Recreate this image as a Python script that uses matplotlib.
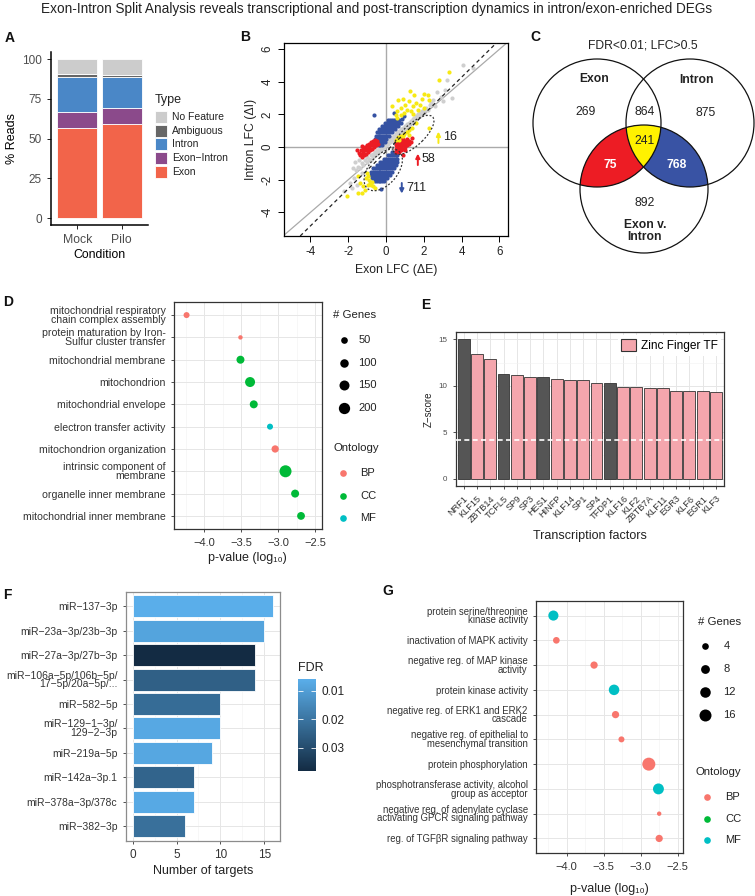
import numpy as np
import matplotlib
matplotlib.use("Agg")
import matplotlib.pyplot as plt
from matplotlib.patches import Rectangle, Circle, Polygon, Ellipse, Patch
from matplotlib.colors import LinearSegmentedColormap, Normalize
from matplotlib.cm import ScalarMappable

plt.rcParams['font.family'] = ['Liberation Sans', 'DejaVu Sans']

W, H = 755, 896

# ---------------- data ----------------
# A: read type composition
conditions = ['Mock', 'Pilo']
read_types = ['Exon', 'Exon−Intron', 'Intron', 'Ambiguous', 'No Feature']
exon_pct = [56.6, 59.3]
exon_intron_pct = [10.1, 9.9]
intron_pct = [22.2, 19.5]
ambiguous_pct = [1.7, 1.2]
nofeature_pct = [9.4, 10.1]

# B: exon vs intron LFC
gray_pts = [(-1.6, -1.4), (-1.5, -1.2), (-1.4, -1.3), (-1.3, -1.0), (-1.2, -1.1), (-1.1, -0.8), (-1.0, -0.9),
            (-1.0, -0.6), (-0.9, -0.7), (-0.8, -0.5), (-0.8, -0.8), (-0.7, -0.4), (-0.7, -0.6), (-0.6, -0.3),
            (-0.6, -0.5), (-0.5, -0.2), (-0.5, -0.4), (-0.4, -0.1), (-0.4, -0.3), (-0.3, 0.0), (-0.3, -0.2),
            (-0.2, 0.1), (-0.2, -0.1), (-0.1, 0.2), (-0.1, 0.0), (0.0, 0.3), (0.0, 0.1), (0.1, 0.4), (0.1, 0.2),
            (0.2, 0.5), (0.2, 0.3), (0.3, 0.6), (0.3, 0.4), (0.4, 0.7), (0.4, 0.5), (0.5, 0.8), (0.5, 0.6),
            (0.6, 0.9), (0.6, 0.7), (0.7, 1.0), (0.7, 0.8), (0.8, 1.1), (0.8, 0.9), (0.9, 1.2), (1.0, 1.3),
            (1.0, 1.1), (1.1, 1.4), (1.2, 1.5), (1.2, 1.3), (1.3, 1.6), (1.4, 1.7), (1.4, 1.5), (1.5, 1.8),
            (1.6, 1.9), (1.6, 1.7), (1.7, 2.0), (1.8, 2.1), (1.8, 1.9), (1.9, 2.2), (2.0, 2.3), (2.0, 2.1),
            (2.1, 2.4), (2.2, 2.3), (2.3, 2.6), (-1.8, -2.5), (-1.7, -1.9), (-1.9, -2.2), (-1.55, -2.3),
            (-1.65, -0.9), (-1.75, -1.3), (-1.45, -0.8), (-2.2, -2.7), (-1.3, -1.6), (2.4, 2.7), (2.6, 2.5),
            (2.7, 3.4), (3.0, 2.8), (3.1, 3.5), (3.24, 4.13), (3.5, 3.0), (4.09, 5.05), (4.6, 4.87),
            (2.9, 3.1), (2.5, 2.9)]
blue_pts = [(-0.4, 0.1), (-0.3, 0.1), (-0.2, 0.1),
            (-0.45, 0.3), (-0.35, 0.3), (-0.25, 0.3), (-0.15, 0.3), (-0.05, 0.3),
            (-0.6, 0.5), (-0.5, 0.5), (-0.4, 0.5), (-0.3, 0.5), (-0.2, 0.5), (-0.1, 0.5), (0.0, 0.5),
            (-0.55, 0.7), (-0.45, 0.7), (-0.35, 0.7), (-0.25, 0.7), (-0.15, 0.7), (-0.05, 0.7), (0.05, 0.7),
            (0.15, 0.7), (-0.5, 0.9), (-0.4, 0.9), (-0.3, 0.9), (-0.2, 0.9), (-0.1, 0.9), (0.0, 0.9), (0.1, 0.9),
            (0.2, 0.9), (0.3, 0.9), (-0.35, 1.1), (-0.25, 1.1), (-0.15, 1.1), (-0.05, 1.1), (0.05, 1.1),
            (0.15, 1.1), (0.25, 1.1), (0.35, 1.1), (0.45, 1.1), (-0.2, 1.3), (-0.1, 1.3), (0.0, 1.3), (0.1, 1.3),
            (0.2, 1.3), (0.3, 1.3), (0.4, 1.3), (0.5, 1.3), (0.65, 1.3), (-0.05, 1.5), (0.05, 1.5), (0.15, 1.5),
            (0.25, 1.5), (0.35, 1.5), (0.45, 1.5), (0.55, 1.5), (0.7, 1.5), (0.8, 1.5), (0.1, 1.65), (0.2, 1.65),
            (0.3, 1.65), (0.4, 1.65), (0.55, 1.65), (0.7, 1.65), (-0.63, 1.98), (0.44, 2.12), (0.95, 1.88),
            (0.85, 1.75),
            (0.3, -0.3), (0.45, -0.3), (0.55, -0.3),
            (0.1, -0.5), (0.2, -0.5), (0.3, -0.5), (0.4, -0.5), (0.5, -0.5), (0.6, -0.5),
            (-0.1, -0.7), (0.0, -0.7), (0.1, -0.7), (0.2, -0.7), (0.3, -0.7), (0.4, -0.7), (0.5, -0.7),
            (0.6, -0.7), (-0.3, -0.9), (-0.2, -0.9), (-0.1, -0.9), (0.0, -0.9), (0.1, -0.9), (0.2, -0.9),
            (0.3, -0.9), (0.4, -0.9), (0.5, -0.9), (0.6, -0.9), (-0.5, -1.1), (-0.4, -1.1), (-0.3, -1.1),
            (-0.2, -1.1), (-0.1, -1.1), (0.0, -1.1), (0.1, -1.1), (0.2, -1.1), (0.3, -1.1), (0.4, -1.1),
            (0.5, -1.1), (-0.7, -1.3), (-0.6, -1.3), (-0.5, -1.3), (-0.4, -1.3), (-0.3, -1.3), (-0.2, -1.3),
            (-0.1, -1.3), (0.0, -1.3), (0.1, -1.3), (0.2, -1.3), (0.3, -1.3), (0.4, -1.3), (-0.8, -1.5),
            (-0.7, -1.5), (-0.6, -1.5), (-0.5, -1.5), (-0.4, -1.5), (-0.3, -1.5), (-0.2, -1.5), (-0.1, -1.5),
            (0.0, -1.5), (0.1, -1.5), (0.2, -1.5), (0.3, -1.5), (-0.8, -1.7), (-0.7, -1.7), (-0.6, -1.7),
            (-0.5, -1.7), (-0.4, -1.7), (-0.3, -1.7), (-0.2, -1.7), (-0.1, -1.7), (0.0, -1.7), (0.1, -1.7),
            (0.2, -1.7), (-0.75, -1.9), (-0.65, -1.9), (-0.55, -1.9), (-0.45, -1.9), (-0.35, -1.9),
            (-0.25, -1.9), (-0.15, -1.9), (-0.05, -1.9), (0.05, -1.9), (-0.6, -2.1), (-0.5, -2.1), (-0.4, -2.1),
            (-0.3, -2.1), (-0.2, -2.1), (-0.1, -2.1), (-0.25, -2.55)]
red_pts = [(-1.45, -0.35), (-1.4, -0.5), (-1.35, -0.2), (-1.3, -0.4), (-1.25, -0.6), (-1.2, -0.1), (-1.2, -0.3),
           (-1.15, -0.5), (-1.1, 0.0), (-1.1, -0.2), (-1.05, -0.4), (-1.0, 0.1), (-1.0, -0.1), (-0.95, -0.3),
           (-0.9, 0.2), (-0.9, 0.0), (-0.85, -0.2), (-0.8, 0.3), (-0.8, 0.1), (-0.75, -0.1), (-0.7, 0.4),
           (-0.7, 0.2), (-0.65, 0.0), (-0.6, 0.45), (-0.6, 0.25), (-0.55, 0.1), (-0.5, 0.35), (-1.55, -0.15),
           (-1.3, 0.05), (-0.45, 0.2),
           (0.5, -0.3), (0.5, -0.1), (0.5, 0.1), (0.55, 0.3), (0.6, -0.2), (0.6, 0.0), (0.6, 0.2), (0.65, 0.45),
           (0.7, -0.3), (0.7, -0.1), (0.7, 0.1), (0.7, 0.3), (0.8, -0.2), (0.8, 0.0), (0.8, 0.2), (0.8, 0.4),
           (0.8, 0.6), (0.9, -0.1), (0.9, 0.1), (0.9, 0.3), (0.9, 0.5), (1.0, 0.0), (1.0, 0.2), (1.0, 0.4),
           (1.1, 0.1), (1.1, 0.3), (1.1, 0.5), (1.2, 0.2), (1.2, 0.4), (1.3, 0.3), (1.35, 0.55), (0.92, -0.47),
           (1.0, -0.15)]
yellow_pts = [(3.35, 4.58), (2.8, 4.13), (1.27, 3.41), (0.65, 2.9), (0.9, 2.94), (1.5, 3.2), (2.0, 3.25),
              (2.2, 3.2), (1.0, 2.6), (1.2, 2.8), (1.4, 2.5), (1.6, 2.7), (1.8, 2.6), (1.1, 2.3), (0.8, 2.4),
              (1.3, 2.2), (0.6, 2.2), (1.7, 2.3), (2.0, 2.4), (0.3, 2.5), (1.9, 2.95), (2.29, 1.2), (2.25, 2.9),
              (0.95, 2.1), (1.45, 2.0), (0.6, 1.8), (0.8, 1.95), (0.5, 1.95),
              (0.5, 0.45), (0.65, 0.6), (0.8, 0.7), (0.95, 0.8), (1.1, 0.9), (1.2, 0.75), (0.7, 0.45),
              (0.9, 0.65), (1.35, 1.2), (1.6, 1.5), (1.2, 1.05),
              (-2.08, -2.99), (-1.47, -2.79), (-1.3, -2.79), (-1.38, -2.21), (-1.47, -1.8), (-1.0, -1.6),
              (-0.95, -1.8), (-0.9, -2.0), (-0.85, -2.2), (-0.8, -2.35), (-0.7, -2.4), (-0.95, -2.3),
              (-1.05, -1.9), (-0.75, -2.15), (-1.2, -2.4), (-1.1, -2.6), (-0.6, -2.5)]
b_counts = ['16', '58', '711']
b_ticks = [-4, -2, 0, 2, 4, 6]

# C: Venn counts
venn_counts = {'exon': 269, 'exon_intron': 864, 'intron': 875, 'all': 241,
               'exon_ei': 75, 'intron_ei': 768, 'ei': 892}

# D: GO terms (intron-enriched)
d_terms = ["mitochondrial respiratory\nchain complex assembly", "protein maturation by Iron-\nSulfur cluster transfer",
           "mitochondrial membrane", "mitochondrion", "mitochondrial envelope", "electron transfer activity",
           "mitochondrion organization", "intrinsic component of\nmembrane", "organelle inner membrane",
           "mitochondrial inner membrane"]
d_logp = [-4.24, -3.51, -3.51, -3.38, -3.33, -3.11, -3.04, -2.90, -2.77, -2.69]
d_genes = [35, 5, 85, 150, 85, 35, 66, 230, 85, 80]
d_onto = ['BP', 'BP', 'CC', 'CC', 'CC', 'MF', 'BP', 'CC', 'CC', 'CC']

# E: transcription factors
tf_names = ['NRF1', 'KLF15', 'ZBTB14', 'TCFL5', 'SP9', 'SP3', 'HES1', 'HINFP', 'KLF14', 'SP1', 'SP4', 'TFDP1',
            'KLF16', 'KLF2', 'ZBTB7A', 'KLF11', 'EGR3', 'KLF6', 'EGR1', 'KLF3']
tf_z = [15.0, 13.38, 12.84, 11.26, 11.15, 10.94, 10.9, 10.68, 10.61, 10.58, 10.29, 10.29,
        9.89, 9.82, 9.78, 9.75, 9.46, 9.39, 9.39, 9.32]
tf_zinc = [False, True, True, False, True, True, False, True, True, True, True, False,
           True, True, True, True, True, True, True, True]
tf_threshold = 4.21

# F: miRNAs
mir_names = ["miR−137−3p", "miR−23a−3p/23b−3p", "miR−27a−3p/27b−3p", "miR−106a−5p/106b−5p/\n17−5p/20a−5p/...",
             "miR−582−5p", "miR−129−1−3p/\n129−2−3p", "miR−219a−5p", "miR−142a−3p.1", "miR−378a−3p/378c",
             "miR−382−3p"]
mir_targets = [16, 15, 14, 14, 10, 10, 9, 7, 7, 6]
mir_fdr = [0.006, 0.0085, 0.038, 0.025, 0.022, 0.0075, 0.0078, 0.024, 0.0072, 0.021]

# G: GO terms (exon-enriched)
g_terms = ["protein serine/threonine\nkinase activity", "inactivation of MAPK activity",
           "negative reg. of MAP kinase\nactivity", "protein kinase activity",
           "negative reg. of ERK1 and ERK2\ncascade", "negative reg. of epithelial to\nmesenchymal transition",
           "protein phosphorylation", "phosphotransferase activity, alcohol\ngroup as acceptor",
           "negative reg. of adenylate cyclase\nactivating GPCR signaling pathway", "reg. of TGFβR signaling pathway"]
g_logp = [-4.18, -4.14, -3.63, -3.36, -3.34, -3.26, -2.89, -2.76, -2.75, -2.75]
g_genes = [11, 4, 5, 12, 5, 3, 19, 13, 1, 5]
g_onto = ['MF', 'BP', 'BP', 'MF', 'BP', 'BP', 'BP', 'MF', 'BP', 'BP']

# ---------------- style ----------------
type_colors = ['#f2644a', '#8b4a8b', '#4a87c7', '#666666', '#cccccc']
onto_colors = {'BP': '#F8766D', 'CC': '#00BA38', 'MF': '#00BFC4'}
scat_colors = {'gray': '#cfcfcf', 'blue': '#3552a3', 'red': '#ec1c24', 'yellow': '#f7e914'}
txt = '#333333'


def px_ax(x0, y0, x1, y1):
    return fig.add_axes([x0 / W, 1 - y1 / H, (x1 - x0) / W, (y1 - y0) / H])


def size_d(g):
    return 8.7 + 0.287 * np.asarray(g, dtype=float)


def size_g(g):
    return 5.8 + 4.3 * np.asarray(g, dtype=float)


def bw_frame(ax):
    for s in ax.spines.values():
        s.set_color('#333333')
        s.set_linewidth(0.9)
    ax.tick_params(color='#333333', length=2.5, width=0.6, labelcolor=txt)
    ax.set_axisbelow(True)


fig = plt.figure(figsize=(W / 100, H / 100), dpi=100)

fig.text(377 / W, 1 - 9 / H, 'Exon-Intron Split Analysis reveals transcriptional and post-transcription dynamics '
         'in intron/exon-enriched DEGs', ha='center', va='center', fontsize=9.8, color='#222222')

# ---------------- A ----------------
axA = px_ax(50.7, 51.7, 148.3, 225)
xs = np.arange(1, len(conditions) + 1)
bottom = np.zeros(len(conditions))
for vals, col in zip([exon_pct, exon_intron_pct, intron_pct, ambiguous_pct, nofeature_pct], type_colors):
    axA.bar(xs, vals, bottom=bottom, width=0.9, color=col, edgecolor='white', linewidth=0.6)
    bottom += np.array(vals)
axA.set_xlim(0.4, 2.6)
axA.set_ylim(-4.4, 104.6)
axA.set_xticks(xs)
axA.set_xticklabels(conditions)
axA.set_yticks([0, 25, 50, 75, 100])
axA.tick_params(labelsize=8.5, labelcolor='#4d4d4d', length=3, width=0.6)
axA.tick_params(axis='x', labelsize=8.8)
for s in ['top', 'right']:
    axA.spines[s].set_visible(False)
for s in ['left', 'bottom']:
    axA.spines[s].set_linewidth(1.1)
axA.set_ylabel('% Reads', fontsize=9, labelpad=3)
axA.set_xlabel('Condition', fontsize=8.8, labelpad=2)

# ---------------- B ----------------
axB = px_ax(284, 42.7, 508, 236)
axB.axvline(0, color='#aaaaaa', lw=1.0, zorder=1)
axB.axhline(0, color='#aaaaaa', lw=1.0, zorder=1)
axB.axline((0, 0), slope=1, color='#aaaaaa', lw=0.9, zorder=1)
for pts, key in [(gray_pts, 'gray'), (blue_pts, 'blue'), (red_pts, 'red'), (yellow_pts, 'yellow')]:
    p = np.array(pts)
    axB.scatter(p[:, 0], p[:, 1], s=9, color=scat_colors[key], linewidths=0, zorder=2)
axB.axline((0, -0.27), slope=1.14, color='#222222', lw=0.9, ls=(0, (3, 2.5)), zorder=3)
axB.add_patch(Ellipse((1.45, 0.75), 3.0, 1.2, angle=49, fill=False, ec='#333333', lw=0.9, ls=(0, (1.5, 1.5)), zorder=3))
axB.add_patch(Ellipse((-0.15, -1.4), 2.84, 1.6, angle=58, fill=False, ec='#333333', lw=0.9, ls=(0, (1.5, 1.5)), zorder=3))
for (ax0, ay0, ay1, col, lbl, tx) in [(2.77, 0.25, 0.95, scat_colors['yellow'], b_counts[0], 3.0),
                                      (1.68, -1.1, -0.4, scat_colors['red'], b_counts[1], 1.9),
                                      (0.83, -2.2, -2.85, scat_colors['blue'], b_counts[2], 1.05)]:
    axB.annotate('', xy=(ax0, ay1), xytext=(ax0, ay0),
                 arrowprops=dict(arrowstyle='-|>', color=col, lw=1.4, mutation_scale=6, shrinkA=0, shrinkB=0))
    axB.text(tx, (ay0 + ay1) / 2, lbl, fontsize=9, va='center', ha='left', color='#222222')
axB.set_xlim(-5.4, 6.45)
axB.set_ylim(-5.45, 6.4)
axB.set_xticks(b_ticks)
axB.set_xticklabels([str(t) for t in b_ticks])
axB.set_yticks(b_ticks)
axB.set_yticklabels([str(t) for t in b_ticks])
axB.tick_params(labelsize=8.3, length=4, width=0.7, labelcolor='#222222')
for lab in axB.get_yticklabels():
    lab.set_rotation(90)
    lab.set_va('center')
for s in axB.spines.values():
    s.set_linewidth(0.9)
axB.set_xlabel('Exon LFC (ΔE)', fontsize=8.8, color='#222222', labelpad=4)
axB.set_ylabel('Intron LFC (ΔI)', fontsize=8.8, color='#222222', labelpad=3)

# ---------------- C ----------------
axC = px_ax(520, 28, 755, 263)
axC.set_xlim(520, 755)
axC.set_ylim(263, 28)
axC.axis('off')
r = 64
c_exon, c_intron, c_ei = (597, 123, r), (690, 123, r), (644, 189, r)


def region(circles):
    t = np.linspace(0, 2 * np.pi, 1440)
    pts = []
    for (cx, cy, cr) in circles:
        px, py = cx + cr * np.cos(t), cy + cr * np.sin(t)
        keep = np.ones_like(px, dtype=bool)
        for (ox, oy, orr) in circles:
            if (ox, oy, orr) != (cx, cy, cr):
                keep &= (px - ox) ** 2 + (py - oy) ** 2 <= orr ** 2 + 1e-6
        pts.append(np.column_stack([px[keep], py[keep]]))
    pts = np.vstack(pts)
    m = pts.mean(axis=0)
    order = np.argsort(np.arctan2(pts[:, 1] - m[1], pts[:, 0] - m[0]))
    return pts[order]


axC.add_patch(Polygon(region([c_exon, c_ei]), closed=True, fc='#ed1c24', ec='none'))
axC.add_patch(Polygon(region([c_intron, c_ei]), closed=True, fc='#3953a4', ec='none'))
axC.add_patch(Polygon(region([c_exon, c_intron, c_ei]), closed=True, fc='#fff200', ec='none'))
for (cx, cy, cr) in [c_exon, c_intron, c_ei]:
    axC.add_patch(Circle((cx, cy), cr, fill=False, ec='#111111', lw=0.9))
axC.text(642.7, 45, 'FDR<0.01; LFC>0.5', ha='center', va='center', fontsize=8.7, color='#222222')
axC.text(594, 79.5, 'Exon', ha='center', va='center', fontsize=8.7, weight='bold', color='#222222')
axC.text(696.7, 80, 'Intron', ha='center', va='center', fontsize=8.7, weight='bold', color='#222222')
cfont = dict(ha='center', va='center', fontsize=8.7, color='#222222')
axC.text(586, 112, str(venn_counts['exon']), **cfont)
axC.text(645, 112, str(venn_counts['exon_intron']), **cfont)
axC.text(706, 113, str(venn_counts['intron']), **cfont)
axC.text(645, 141.5, str(venn_counts['all']), **cfont)
axC.text(610, 165, str(venn_counts['exon_ei']), ha='center', va='center', fontsize=8.7, color='white', weight='bold')
axC.text(676.7, 165, str(venn_counts['intron_ei']), ha='center', va='center', fontsize=8.7, color='white', weight='bold')
axC.text(645, 203, str(venn_counts['ei']), **cfont)
axC.text(645, 231, 'Exon v.\nIntron', ha='center', va='center', fontsize=8.7, weight='bold', color='#222222',
         linespacing=1.0)

# ---------------- D ----------------
axD = px_ax(174, 301.7, 321.7, 529.3)
nd = len(d_terms)
yd = np.arange(nd)[::-1]
axD.scatter(d_logp, yd, s=size_d(d_genes), c=[onto_colors[o] for o in d_onto], linewidths=0, zorder=3)
axD.set_xlim(-4.41, -2.41)
axD.set_ylim(-0.6, nd - 0.4)
axD.set_xticks([-4.0, -3.5, -3.0, -2.5])
axD.set_xticks([-4.25, -3.75, -3.25, -2.75], minor=True)
axD.set_yticks(yd)
axD.set_yticklabels(d_terms, fontsize=7.6, linespacing=0.85)
axD.grid(True, which='major', color='#e6e6e6', lw=0.7)
axD.grid(True, which='minor', axis='x', color='#f2f2f2', lw=0.4)
axD.tick_params(axis='x', which='minor', length=0)
axD.tick_params(axis='x', labelsize=8)
bw_frame(axD)
axD.set_xlabel('p-value (log₁₀)', fontsize=9, color='#222222', labelpad=3)

# ---------------- E ----------------
axE = px_ax(455.7, 332.3, 724, 485.7)
xe = np.arange(len(tf_names))
axE.bar(xe, tf_z, width=0.9, color=['#f4a6ad' if z else '#555555' for z in tf_zinc],
        edgecolor='#333333', linewidth=0.6, zorder=2)
axE.axhline(tf_threshold, color='white', lw=1.2, ls=(0, (3, 2)), zorder=3)
axE.set_xlim(-0.6, len(tf_names) - 0.4)
axE.set_ylim(-0.75, 15.75)
axE.set_xticks(xe)
axE.set_xticklabels(tf_names, rotation=45, ha='right', rotation_mode='anchor', fontsize=6.6)
axE.set_yticks([0, 5, 10, 15])
axE.set_yticks([2.5, 7.5, 12.5], minor=True)
axE.tick_params(axis='y', which='minor', length=0)
axE.grid(True, which='major', color='#e6e6e6', lw=0.7)
axE.grid(True, which='minor', axis='y', color='#f2f2f2', lw=0.4)
bw_frame(axE)
axE.tick_params(axis='y', labelsize=5.8, labelcolor='#4d4d4d')
axE.set_ylabel('Z−score', fontsize=7, color='#222222', labelpad=3)
axE.set_xlabel('Transcription factors', fontsize=9, color='#222222', labelpad=4)
axE.legend(handles=[Patch(facecolor='#f4a6ad', edgecolor='#333333', lw=0.8, label='Zinc Finger TF')],
           loc='upper right', fontsize=8.6, frameon=True, facecolor='white', edgecolor='none', framealpha=1,
           handlelength=1.2, handleheight=1.2, borderaxespad=0.25, handletextpad=0.4, borderpad=0.3)

# ---------------- F ----------------
axF = px_ax(125.7, 591.7, 280, 840.7)
fdr_cmap = LinearSegmentedColormap.from_list('fdr', ['#5aaeea', '#132B43'])
fdr_norm = Normalize(vmin=min(mir_fdr), vmax=max(mir_fdr))
nf = len(mir_names)
yf = np.arange(nf)[::-1]
axF.barh(yf, mir_targets, height=0.9, color=fdr_cmap(fdr_norm(mir_fdr)), edgecolor='white', linewidth=0.6, zorder=2)
axF.set_xlim(-0.8, 16.8)
axF.set_ylim(-0.6, nf - 0.4)
axF.set_xticks([0, 5, 10, 15])
axF.set_xticks([2.5, 7.5, 12.5], minor=True)
axF.tick_params(axis='x', which='minor', length=0)
axF.set_yticks(yf)
axF.set_yticklabels(mir_names, fontsize=7.5, linespacing=0.85)
axF.grid(True, which='major', color='#e6e6e6', lw=0.7)
axF.grid(True, which='minor', axis='x', color='#f2f2f2', lw=0.4)
bw_frame(axF)
for s in axF.spines.values():
    s.set_color('#8c8c8c')
axF.tick_params(axis='x', labelsize=8.5)
axF.set_xlabel('Number of targets', fontsize=9, color='#222222', labelpad=3)

cax = px_ax(298, 679, 316, 771)
cb = fig.colorbar(ScalarMappable(norm=fdr_norm, cmap=fdr_cmap), cax=cax)
cb.set_ticks([0.01, 0.02, 0.03])
cb.ax.set_yticklabels(['0.01', '0.02', '0.03'])
cb.outline.set_visible(False)
cax.invert_yaxis()
cax.tick_params(direction='in', color='white', length=3.5, width=0.6, left=True, right=True,
                labelsize=8.5, labelcolor='#222222', pad=4)

# ---------------- G ----------------
axG = px_ax(536, 600.7, 683.3, 853.3)
ng = len(g_terms)
yg = np.arange(ng)[::-1]
axG.scatter(g_logp, yg, s=size_g(g_genes), c=[onto_colors[o] for o in g_onto], linewidths=0, zorder=3)
axG.set_xlim(-4.415, -2.424)
axG.set_ylim(-0.6, ng - 0.4)
axG.set_xticks([-4.0, -3.5, -3.0, -2.5])
axG.set_xticks([-4.25, -3.75, -3.25, -2.75], minor=True)
axG.set_yticks(yg)
axG.set_yticklabels(g_terms, fontsize=6.9, linespacing=0.85)
axG.grid(True, which='major', color='#e6e6e6', lw=0.7)
axG.grid(True, which='minor', axis='x', color='#f2f2f2', lw=0.4)
axG.tick_params(axis='x', which='minor', length=0)
axG.tick_params(axis='x', labelsize=8)
bw_frame(axG)
axG.set_xlabel('p-value (log₁₀)', fontsize=9, color='#222222', labelpad=8)

# ---------------- overlay: legends and panel letters ----------------
ov = fig.add_axes([0, 0, 1, 1])
ov.set_xlim(0, W)
ov.set_ylim(H, 0)
ov.axis('off')

# A legend
ov.text(155, 100, 'Type', fontsize=9, va='center', ha='left', color='#222222')
leg_y = [117.3, 130.7, 144.3, 157.7, 171.7]
for yy, name, col in zip(leg_y, read_types[::-1], type_colors[::-1]):
    ov.add_patch(Rectangle((155, yy - 6), 11.7, 12, fc=col, ec='white', lw=0.6))
    ov.text(171.7, yy, name, fontsize=7.5, va='center', ha='left', color='#222222')

# D legend
ov.text(333, 315, '# Genes', fontsize=8.2, va='center', ha='left', color='#222222')
for val, yy in zip([50, 100, 150, 200], [340, 362.7, 385, 408.3]):
    ov.scatter([344.3], [yy], s=size_d([val]), color='black', linewidths=0)
    ov.text(358.3, yy, str(val), fontsize=8, va='center', ha='left', color='#222222')
ov.text(333, 447.7, 'Ontology', fontsize=8.2, va='center', ha='left', color='#222222')
for name, yy in zip(['BP', 'CC', 'MF'], [473.3, 496, 518.3]):
    ov.scatter([343.3], [yy], s=23, color=onto_colors[name], linewidths=0)
    ov.text(360, yy, name, fontsize=8, va='center', ha='left', color='#222222')

# F legend title
ov.text(298, 667.7, 'FDR', fontsize=9, va='center', ha='left', color='#222222')

# G legend
ov.text(698.3, 621.7, '# Genes', fontsize=8.2, va='center', ha='left', color='#222222')
for val, yy in zip([4, 8, 12, 16], [646, 669, 691.7, 715]):
    ov.scatter([705], [yy], s=size_g([val]), color='black', linewidths=0)
    ov.text(723.3, yy, str(val), fontsize=8, va='center', ha='left', color='#222222')
ov.text(696, 771.7, 'Ontology', fontsize=8.2, va='center', ha='left', color='#222222')
for name, yy in zip(['BP', 'CC', 'MF'], [796.7, 819, 840]):
    ov.scatter([706.7], [yy], s=23, color=onto_colors[name], linewidths=0)
    ov.text(725, yy, name, fontsize=8, va='center', ha='left', color='#222222')

for letter, lx, ly in [('A', 5, 38), ('B', 240, 37), ('C', 530, 37), ('D', 3, 302), ('E', 421, 305),
                       ('F', 3, 595), ('G', 382, 591)]:
    ov.text(lx, ly, letter, fontsize=10, weight='bold', va='center', ha='left', color='#111111')

fig.savefig('out.png', dpi=100)
